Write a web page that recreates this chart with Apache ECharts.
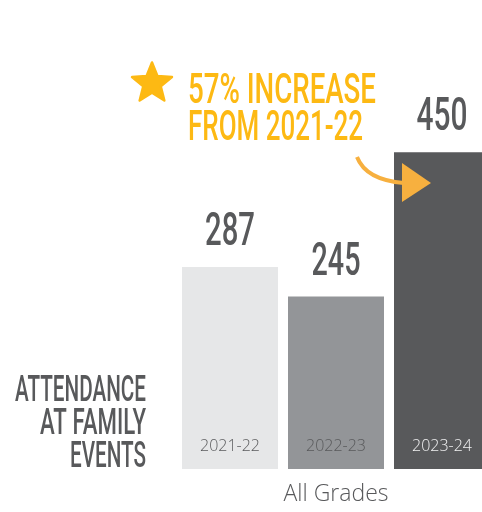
<!DOCTYPE html>
<html><head><meta charset="utf-8">
<script src="https://cdn.jsdelivr.net/npm/echarts@6/dist/echarts.min.js"></script>
<style>html,body{margin:0;padding:0;background:#fff}#c{width:482px;height:512px}</style>
</head><body><div id="c"></div>
<script>
// ---- data ----
const categories = ['2021-22', '2022-23', '2023-24'];
const values = [287, 245, 450];
const axisName = 'All Grades';
const titleLines = ['ATTENDANCE', 'AT FAMILY', 'EVENTS'];
const calloutLines = ['57% INCREASE', 'FROM 2021-22'];

// ---- styles ----
const barColors = ['#E6E7E8', '#939598', '#58595B'];
const catLabelColors = ['#5A5B5D', '#58595B', '#F1F1F2'];
const gray = '#58595B';
const yellow = '#FDB913';
const arrowColor = '#F7B03F';
const valWidths = [50, 49, 51];
const titleWidths = [131, 106, 76];
const calloutWidths = [188, 175];

const chart = echarts.init(document.getElementById('c'), null, {renderer: 'canvas'});

chart.setOption({
  animation: false,
  grid: {left: 177, top: 117, width: 318, height: 352, containLabel: false, outerBoundsMode: 'none'},
  xAxis: {
    type: 'category', data: categories,
    axisLine: {show: false}, axisTick: {show: false}, axisLabel: {show: false}, splitLine: {show: false},
    name: axisName, nameLocation: 'middle', nameGap: 14,
    nameTextStyle: {fontSize: 23, fontFamily: 'Open Sans', fontWeight: 300, color: '#58595B'}
  },
  yAxis: {type: 'value', min: 0, max: 500, show: false},
  series: [{
    type: 'bar', barWidth: 96,
    data: values.map((v, i) => ({
      value: v,
      itemStyle: {color: barColors[i]},
      label: {color: catLabelColors[i]}
    })),
    label: {
      show: true, position: 'insideBottom', distance: 15, formatter: '{b}',
      fontSize: 16, fontFamily: 'Open Sans', fontWeight: 300
    }
  }]
});

// ---- condensed text helpers ----
const mctx = document.createElement('canvas').getContext('2d');
function measure(text, font) { mctx.font = font; return mctx.measureText(text).width; }
function fsOf(capH) { return capH / 0.711; }
function condText(text, x, capCenterY, capH, width, fill, align) {
  const fs = fsOf(capH);
  const font = '500 ' + fs.toFixed(2) + 'px Roboto';
  const sx = width / measure(text, font);
  return {
    type: 'text', x: x, y: capCenterY + fs * 0.1, scaleX: sx, scaleY: 1, silent: true, z: 10,
    style: {text: text, x: 0, y: 0, font: font, fill: fill,
      align: align, textAlign: align, verticalAlign: 'middle', textVerticalAlign: 'middle'}
  };
}

const els = [];

// value labels above bars
values.forEach((v, i) => {
  const p = chart.convertToPixel({seriesIndex: 0}, [i, v]);
  els.push(condText(String(v), p[0], p[1] - 38, 32.5, valWidths[i], gray, 'center'));
});

// left title
titleLines.forEach((t, i) => {
  els.push(condText(t, 146, 388 + i * 33, 26, titleWidths[i], gray, 'right'));
});

// callout text
calloutLines.forEach((t, i) => {
  els.push(condText(t, 188, 87.5 + i * 37, 30.5, calloutWidths[i], yellow, 'left'));
});

// star
const pts = [];
const cx = 152, cy = 83.5, R = 21, r = 9.2;
for (let k = 0; k < 10; k++) {
  const a = -Math.PI / 2 + k * Math.PI / 5;
  const rad = k % 2 === 0 ? R : r;
  pts.push([cx + rad * Math.cos(a), cy + rad * Math.sin(a)]);
}
els.push({type: 'polygon', shape: {points: pts}, silent: true,
  style: {fill: yellow, stroke: yellow, lineWidth: 2.5, lineJoin: 'round'}});

// arrow
els.push({type: 'bezierCurve', silent: true, z: 11,
  shape: {x1: 357, y1: 157, cpx1: 366, cpy1: 180, x2: 404, y2: 183},
  style: {stroke: arrowColor, lineWidth: 4, fill: null}});
els.push({type: 'polygon', silent: true, z: 11,
  shape: {points: [[402, 163], [431, 183], [402, 202]]},
  style: {fill: arrowColor}});

chart.setOption({graphic: {elements: els}});
</script>
</body></html>
